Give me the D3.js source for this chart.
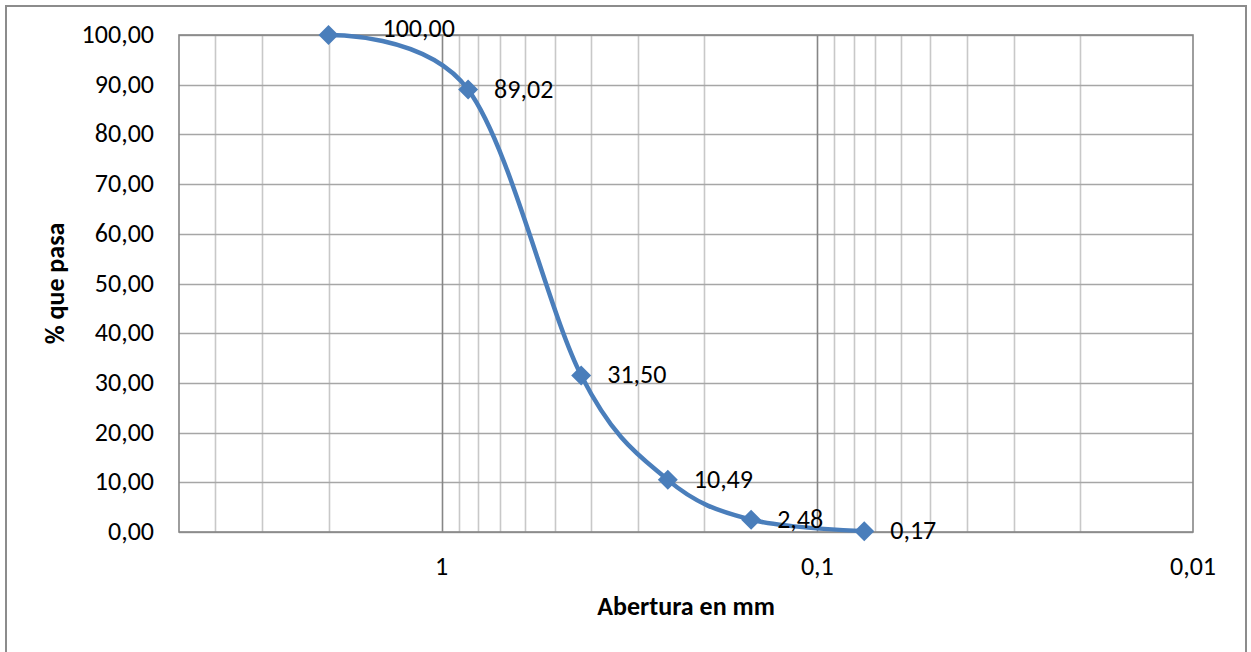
<!DOCTYPE html>
<html>
<head>
<meta charset="utf-8">
<script src="https://cdn.jsdelivr.net/npm/d3@7"></script>
<style>
  html, body { margin: 0; padding: 0; background: #fff; }
  svg { display: block; font-family: Carlito, Lato, "Open Sans", sans-serif; }
</style>
</head>
<body>
<svg id="chart" width="1251" height="652"></svg>
<script>
// abertura de tamiz (mm) y % que pasa
var aberturas = [2, 0.85, 0.425, 0.25, 0.15, 0.075];
var pasa = [100.00, 89.02, 31.50, 10.49, 2.48, 0.17];
var yTicks = [0, 10, 20, 30, 40, 50, 60, 70, 80, 90, 100];
var xTicks = [1, 0.1, 0.01];

var m = {left: 179, right: 1193, top: 35, bottom: 532};

var fmt = function(v, dec){ return v.toFixed(dec).replace('.', ','); };

var svg = d3.select('#chart');

// marco exterior del gráfico
svg.append('rect')
  .attr('x', 6).attr('y', 6)
  .attr('width', 1240).attr('height', 700)
  .attr('fill', '#fff')
  .attr('stroke', '#8c8c8c')
  .attr('stroke-width', 2);

var x = d3.scaleLog().domain([5, 0.01]).range([m.left, m.right]);
var y = d3.scaleLinear().domain([0, 100]).range([m.bottom, m.top]);

// rejilla vertical: menores 2..9 x 10^k, mayores en 1 y 0,1
var minor = [];
[-2, -1, 0].forEach(function(k){
  for(var d = 2; d <= 9; d++){
    var v = d * Math.pow(10, k);
    if(v < 5) minor.push(v);
  }
});
svg.append('g').selectAll('line').data(minor).join('line')
  .attr('x1', function(d){ return Math.round(x(d)) + 0.5; })
  .attr('x2', function(d){ return Math.round(x(d)) + 0.5; })
  .attr('y1', m.top).attr('y2', m.bottom)
  .attr('stroke', '#c8c8c8').attr('stroke-width', 1.6);

// rejilla horizontal
svg.append('g').selectAll('line').data(yTicks).join('line')
  .attr('x1', m.left).attr('x2', m.right)
  .attr('y1', function(d){ return Math.round(y(d)) + 0.5; })
  .attr('y2', function(d){ return Math.round(y(d)) + 0.5; })
  .attr('stroke', '#a6a6a6').attr('stroke-width', 1.6);

svg.append('g').selectAll('line').data([1, 0.1]).join('line')
  .attr('x1', function(d){ return Math.round(x(d)) + 0.5; })
  .attr('x2', function(d){ return Math.round(x(d)) + 0.5; })
  .attr('y1', m.top).attr('y2', m.bottom)
  .attr('stroke', '#868686').attr('stroke-width', 1.6);

// borde del área de trazado
svg.append('rect')
  .attr('x', m.left).attr('y', m.top)
  .attr('width', m.right - m.left).attr('height', m.bottom - m.top)
  .attr('fill', 'none')
  .attr('stroke', '#868686').attr('stroke-width', 1.6);

// etiquetas de ejes
svg.append('g').selectAll('text').data(yTicks).join('text')
  .attr('x', 154)
  .attr('y', function(d){ return y(d) + 8; })
  .attr('text-anchor', 'end')
  .attr('font-size', 26)
  .attr('fill', '#000')
  .text(function(d){ return fmt(d, 2); });

svg.append('g').selectAll('text').data(xTicks).join('text')
  .attr('x', function(d){ return x(d); })
  .attr('y', 575)
  .attr('text-anchor', 'middle')
  .attr('font-size', 26)
  .attr('fill', '#000')
  .text(function(d){ return String(d).replace('.', ','); });

svg.append('text')
  .attr('x', (m.left + m.right) / 2).attr('y', 615)
  .attr('text-anchor', 'middle')
  .attr('font-size', 26).attr('font-weight', 'bold')
  .text('Abertura en mm');

svg.append('text')
  .attr('transform', 'translate(64,' + ((m.top + m.bottom) / 2) + ') rotate(-90)')
  .attr('text-anchor', 'middle')
  .attr('font-size', 26).attr('font-weight', 'bold')
  .text('% que pasa');

// curva granulométrica suavizada
var pts = aberturas.map(function(a, i){ return {a: a, p: pasa[i]}; });
var line = d3.line()
  .x(function(d){ return x(d.a); })
  .y(function(d){ return y(d.p); })
  .curve(d3.curveCardinal.tension(0));

svg.append('path')
  .datum(pts)
  .attr('d', line)
  .attr('fill', 'none')
  .attr('stroke', '#4a7ebb')
  .attr('stroke-width', 4.5)
  .attr('stroke-linejoin', 'round');

svg.append('g').selectAll('path').data(pts).join('path')
  .attr('d', 'M0,-10L10,0L0,10L-10,0Z')
  .attr('transform', function(d){ return 'translate(' + x(d.a) + ',' + y(d.p) + ')'; })
  .attr('fill', '#4a7ebb');

// etiquetas de datos a la derecha del punto (la primera desplazada como en el original)
svg.append('g').selectAll('text').data(pts).join('text')
  .attr('x', function(d, i){ return x(d.a) + (i === 0 ? 54 : 26); })
  .attr('y', function(d, i){ return y(d.p) + (i === 0 ? 2 : 8); })
  .attr('font-size', 26)
  .attr('fill', '#000')
  .text(function(d){ return fmt(d.p, 2); });
</script>
</body>
</html>
